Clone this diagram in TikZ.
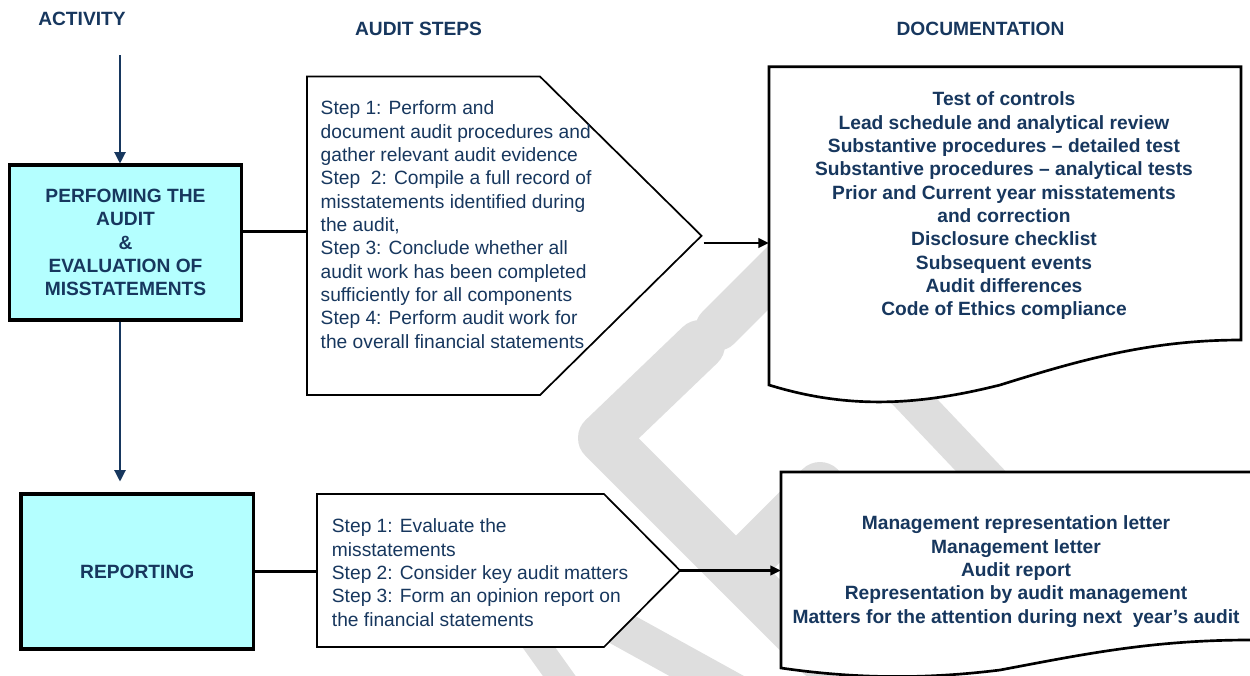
\documentclass[tikz,border=0pt]{standalone}
\usepackage{fontspec}
\setmainfont{Liberation Sans}
\usetikzlibrary{arrows.meta,calc}
\definecolor{navy}{RGB}{23,55,94}
\definecolor{cyanbox}{RGB}{180,255,255}
\definecolor{wmgray}{RGB}{222,222,222}
\begin{document}
\begin{tikzpicture}[x=0.75pt,y=-0.75pt,
  txt/.style={font=\fontsize{14.4pt}{17.5pt}\selectfont, text=navy, inner sep=0pt},
  boldtxt/.style={txt, font=\fontsize{14.4pt}{17.5pt}\selectfont\bfseries},
  actbox/.style={draw=black, line width=2.3pt, fill=cyanbox, boldtxt, align=center},
  ghost/.style={inner sep=0pt, outer sep=0pt},
  stepshape/.style={draw=black, line width=1.3pt, fill=white, line join=miter},
  docshape/.style={draw=black, line width=2pt, line join=miter},
  conn/.style={draw=black, line width=2.2pt},
  connarrow/.style={conn, -{Triangle[length=8pt,width=7pt]}},
  navyarrow/.style={draw=navy, line width=0.9pt, -{Triangle[length=8.5pt,width=8.5pt]}},
  wmband/.style={draw=wmgray, line cap=round, line join=round}
]
\useasboundingbox (0,0) rectangle (1250,675);

% watermark
\draw[wmband, line width=33.75pt] (718,328) -- (830,216);
\draw[wmband, line width=37.5pt] (700,345) -- (603,438) -- (820,655);
\draw[wmband, line width=37.5pt] (736,571) -- (820,487);
\draw[wmband, line width=27pt] (880,365) -- (1010,502);
\draw[wmband, line width=27pt] (560,595) -- (790,722);
\draw[wmband, line width=20pt] (505,600) -- (580,705);

% headings
\node[boldtxt] (h1) at (82,19) {ACTIVITY};
\node[boldtxt] (h2) at (418.5,29) {AUDIT STEPS};
\node[boldtxt] (h3) at (980.5,29) {DOCUMENTATION};

% activity boxes
\node[actbox, minimum width=174pt, minimum height=116.25pt] (box1) at (125.5,242.5)
  {PERFOMING THE\\AUDIT\\\&\\EVALUATION OF\\MISSTATEMENTS};
\node[actbox, minimum width=174.4pt, minimum height=116.25pt] (box2) at (137.25,571.5)
  {REPORTING};

% step shapes
\node[ghost, minimum width=295.9pt, minimum height=238.8pt] (p1) at (504.25,235.8) {};
\draw[stepshape] (p1.north west) -- ([xshift=-121.1pt]p1.north east) -- (p1.east)
  -- ([xshift=-121.1pt]p1.south east) -- (p1.south west) -- cycle;
\node[txt, align=left, anchor=west] (t1) at ([xshift=10.1pt,yshift=8.3pt]p1.west)
  {Step 1: Perform and\\
   document audit procedures and\\
   gather relevant audit evidence\\
   Step~ 2: Compile a full record of\\
   misstatements identified during\\
   the audit,\\
   Step 3: Conclude whether all\\
   audit work has been completed\\
   sufficiently for all components\\
   Step 4: Perform audit work for\\
   the overall financial statements};

\node[ghost, minimum width=272.25pt, minimum height=114.75pt] (p2) at (498.5,570.5) {};
\draw[stepshape] (p2.north west) -- ([xshift=-57pt]p2.north east) -- (p2.east)
  -- ([xshift=-57pt]p2.south east) -- (p2.south west) -- cycle;
\node[txt, align=left, anchor=west] (t2) at ([xshift=11pt,yshift=-1.5pt]p2.west)
  {Step 1: Evaluate the\\
   misstatements\\
   Step 2: Consider key audit matters\\
   Step 3: Form an opinion report on\\
   the financial statements};

% documentation shapes
\node[ghost, minimum width=354pt, minimum height=238.7pt] (d1) at (1005,225.85) {};
\filldraw[docshape, fill=white] (d1.south west) -- (d1.north west) -- (d1.north east) -- (1241,340)
  .. controls (1150,340) and (1080,360) .. (1000,385)
  .. controls (920,405) and (850,410) .. (d1.south west) -- cycle;
\node[boldtxt, align=center] (dt1) at (1004,206)
  {Test of controls\\
   Lead schedule and analytical review\\
   Substantive procedures – detailed test\\
   Substantive procedures – analytical tests\\
   Prior and Current year misstatements\\
   and correction\\
   Disclosure checklist\\
   Subsequent events\\
   Audit differences\\
   Code of Ethics compliance};

\node[ghost, minimum width=360.75pt, minimum height=147pt] (d2) at (1021.5,570) {};
\fill[white] (d2.south west) -- (d2.north west) -- (1262,472) -- (1262,640) -- (1250,640)
  .. controls (1150,640) and (1080,655) .. (1000,670)
  .. controls (920,680) and (850,678) .. (d2.south west) -- cycle;
\draw[docshape] (1250,472) -- (d2.north west) -- (d2.south west)
  .. controls (850,678) and (920,680) .. (1000,670)
  .. controls (1080,655) and (1150,640) .. (1250,640);
\node[boldtxt, align=center] (dt2) at (1016,571.5)
  {Management representation letter\\
   Management letter\\
   Audit report\\
   Representation by audit management\\
   Matters for the attention during next~ year’s audit};

% connectors
\coordinate (vline) at (120,55);
\draw[navyarrow] (vline) -- (vline |- box1.north);
\draw[navyarrow] (vline |- box1.south) -- ([yshift=8.25pt]vline |- box2.north);
\draw[conn] ([yshift=8.6pt]box1.east) -- ([yshift=8.6pt]box1.east -| p1.west);
\draw[connarrow] ([xshift=1.5pt,yshift=-5.4pt]p1.east) -- ([yshift=-5.4pt]p1.east -| d1.west);
\draw[conn] (box2.east) -- (box2.east -| p2.west);
\draw[connarrow] (p2.east) -- (p2.east -| d2.west);
\end{tikzpicture}
\end{document}
